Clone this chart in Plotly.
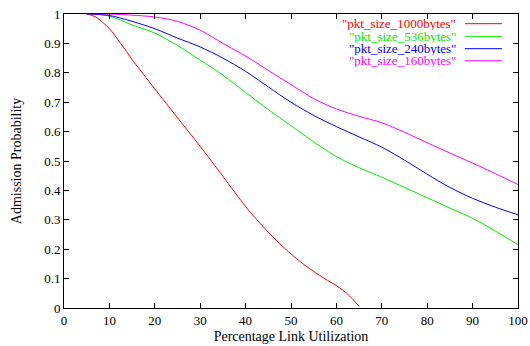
import plotly.graph_objects as go

# ---- data ----
x_red = [5, 7, 10, 12.5, 15, 17.5, 20, 25, 30, 35, 40, 42.5, 45, 47.5, 50, 52.5, 55, 57.5, 60, 62.5, 65]
y_red = [1.0, 0.99, 0.95, 0.9, 0.845, 0.795, 0.745, 0.647, 0.55, 0.448, 0.345, 0.3, 0.258,
         0.219, 0.184, 0.152, 0.124, 0.099, 0.076, 0.047, 0.006]

x_util = [5, 10, 15, 20, 25, 30, 35, 40, 45, 50, 55, 60, 65, 70, 75, 80, 85, 90, 95, 100]
y_536 = [1.0, 0.993, 0.963, 0.935, 0.893, 0.843, 0.792, 0.733, 0.675, 0.62, 0.565, 0.515,
         0.477, 0.445, 0.41, 0.375, 0.34, 0.305, 0.262, 0.215]
y_240 = [1.0, 0.995, 0.975, 0.95, 0.918, 0.888, 0.85, 0.805, 0.752, 0.70, 0.655, 0.617,
         0.582, 0.547, 0.503, 0.455, 0.41, 0.373, 0.343, 0.317]
y_160 = [1.0, 1.0, 0.996, 0.99, 0.975, 0.945, 0.90, 0.857, 0.808, 0.76, 0.712, 0.677,
         0.652, 0.63, 0.598, 0.562, 0.527, 0.493, 0.457, 0.42]

names = ['"pkt_size_1000bytes"', '"pkt_size_536bytes"', '"pkt_size_240bytes"', '"pkt_size_160bytes"']
colors = ['#ff0000', '#00ee00', '#0000ff', '#ff00ff']

series = [(x_red, y_red), (x_util, y_536), (x_util, y_240), (x_util, y_160)]

FONT = "Liberation Serif"

fig = go.Figure()
for (xs, ys), nm, c in zip(series, names, colors):
    fig.add_trace(go.Scatter(x=xs, y=ys, mode="lines", name=nm,
                             line=dict(color=c, width=1, shape="spline", smoothing=0.8),
                             showlegend=False))

# manual gnuplot-style legend (text right-aligned, sample line on the right)
leg_y = [0.967, 0.924, 0.882, 0.841]
for nm, c, yy in zip(names, colors, leg_y):
    fig.add_annotation(x=0.868, y=yy, xref="paper", yref="paper", text=nm,
                       showarrow=False, xanchor="right", yanchor="middle", height=13,
                       font=dict(family=FONT, size=13, color=c))
    fig.add_shape(type="line", xref="paper", yref="paper", x0=0.883, x1=0.965,
                  y0=yy, y1=yy, line=dict(color=c, width=1))

axis_common = dict(showline=True, linecolor="black", linewidth=1, mirror="ticks",
                   ticks="inside", ticklen=5, tickcolor="black", showgrid=False,
                   zeroline=False, automargin=False,
                   tickfont=dict(family=FONT, size=13, color="black"))

fig.update_xaxes(range=[0, 100], dtick=10, tick0=0,
                 title=dict(text="Percentage Link Utilization", standoff=4,
                            font=dict(family=FONT, size=14, color="black")),
                 **axis_common)
fig.update_yaxes(range=[0, 1], dtick=0.1, tick0=0,
                 title=dict(text="Admission Probability", standoff=19,
                            font=dict(family=FONT, size=14, color="black")),
                 **axis_common)

fig.update_layout(width=530, height=346, margin=dict(l=64, r=12, t=14, b=38),
                  plot_bgcolor="white", paper_bgcolor="white",
                  font=dict(family=FONT, size=13, color="black"))

fig.write_html("out.html", config={"displayModeBar": False},
               post_script="document.body.style.margin='0';document.body.style.overflow='hidden';")
